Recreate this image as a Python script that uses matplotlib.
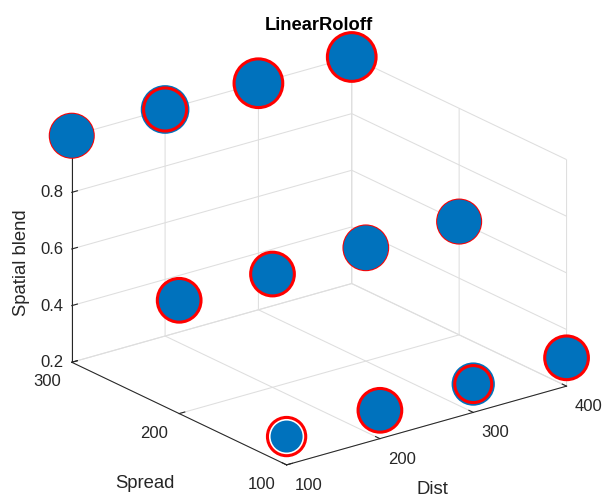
import numpy as np
import matplotlib
matplotlib.use("Agg")
import matplotlib.pyplot as plt

plt.rcParams["font.family"] = ["Liberation Sans", "DejaVu Sans"]
plt.rcParams["grid.color"] = "#dedede"
plt.rcParams["grid.linewidth"] = 0.75

# ---- data ----
title = "LinearRoloff"
dist = [100, 200, 300, 400, 100, 200, 300, 400, 100, 200, 300, 400]
spread = [100, 100, 100, 100, 200, 200, 200, 200, 300, 300, 300, 300]
blend = [0.3, 0.3, 0.3, 0.3, 0.6, 0.6, 0.6, 0.6, 1.0, 1.0, 1.0, 1.0]
# marker areas (pt^2) of the two measures at each setting
blue_area = [531, 959, 972, 959, 959, 959, 1036, 1004, 1004, 1229, 1194, 1194]
red_area = [760, 990, 710, 990, 990, 990, 990, 959, 959, 959, 1229, 1229]
blue_in_front = [False, False, False, False, False, False, True, True, True, False, False, False]

dist_ticks = [100, 200, 300, 400]
spread_ticks = [100, 200, 300]
blend_ticks = [0.2, 0.4, 0.6, 0.8, 1.0]
blend_ticklabels = ["0.2", "0.4", "0.6", "0.8", ""]

BLUE = "#0072BD"
RED = "#FF0000"
AXC = "#262626"

W_PX, H_PX = 607, 497
fig = plt.figure(figsize=(W_PX / 100, H_PX / 100), dpi=100)
ax = fig.add_subplot(projection="3d", proj_type="ortho", computed_zorder=False)
ax.view_init(elev=21.5, azim=-127.5)
ax.set_box_aspect((1, 1, 0.69))

ax.set_xlim(100, 400)
ax.set_ylim(100, 300)
ax.set_zlim(0.2, 1.0)
ax.set_xticks(dist_ticks)
ax.set_xticklabels([str(v) for v in dist_ticks])
ax.set_yticks(spread_ticks)
ax.set_yticklabels([str(v) for v in spread_ticks])
ax.set_zticks(blend_ticks)
ax.set_zticklabels(blend_ticklabels)

for axis in (ax.xaxis, ax.yaxis, ax.zaxis):
    axis.set_pane_color((1, 1, 1, 0))
    axis._axinfo["axisline"]["color"] = AXC
    axis._axinfo["axisline"]["linewidth"] = 0.75
    axis.line.set_color(AXC)
    axis.line.set_linewidth(0.75)
    axis._axinfo["grid"]["color"] = "#dedede"
    axis._axinfo["grid"]["linewidth"] = 0.75
    axis._axinfo["tick"]["inward_factor"] = 0.0
    axis._axinfo["tick"]["outward_factor"] = 0.25
ax.tick_params(colors=AXC, labelsize=12, width=0.75, pad=0)

for t in ax.xaxis.get_major_ticks():
    t.label1.set_horizontalalignment("left")
for t in ax.yaxis.get_major_ticks():
    t.label1.set_horizontalalignment("right")
for t in ax.zaxis.get_major_ticks():
    t.label1.set_verticalalignment("center_baseline")

# scatter layers
d = np.array(dist, float)
sp = np.array(spread, float)
bl = np.array(blend, float)
ba = np.array(blue_area, float)
ra = np.array(red_area, float)
front = np.array(blue_in_front)

ax.scatter(d[front], sp[front], bl[front], s=ra[front], facecolors="none",
           edgecolors=RED, linewidths=2.2, depthshade=False, zorder=2, clip_on=False)
ax.scatter(d, sp, bl, s=ba, c=BLUE, linewidths=0, depthshade=False, zorder=3, clip_on=False)
ax.scatter(d[~front], sp[~front], bl[~front], s=ra[~front], facecolors="none",
           edgecolors=RED, linewidths=2.2, depthshade=False, zorder=4, clip_on=False)

# place the plot box so its frame lands at the chosen pixel locations
frame_corners = np.array([[100, 300, 0.2], [100, 100, 0.2], [400, 100, 0.2],
                          [400, 300, 1.0], [100, 300, 1.0]])
frame_px = np.array([[72.3, 361.7], [286.6, 465.3], [565.8, 387.3],
                     [351.7, 56.0], [72.0, 135.7]])

fig.canvas.draw()
M = ax.get_proj()
hom = np.column_stack([frame_corners, np.ones(len(frame_corners))]) @ M.T
p2 = hom[:, :2] / hom[:, 3:4]
disp = ax.transData.transform(p2)
bb = ax.get_position()
s0 = bb.width * W_PX
c0 = np.array([(bb.x0 + bb.width / 2) * W_PX, (bb.y0 + bb.height / 2) * H_PX])
u = (disp - c0) / s0
tgt = np.column_stack([frame_px[:, 0], H_PX - frame_px[:, 1]])
n = len(u)
A = np.zeros((2 * n, 3))
b = np.zeros(2 * n)
A[0::2, 0] = u[:, 0]; A[0::2, 1] = 1; b[0::2] = tgt[:, 0]
A[1::2, 0] = u[:, 1]; A[1::2, 2] = 1; b[1::2] = tgt[:, 1]
s, cx, cy = np.linalg.lstsq(A, b, rcond=None)[0]
ax.set_position([(cx - s / 2) / W_PX, (cy - s / 2) / H_PX, s / W_PX, s / H_PX])

# labels and title
fig.text(319 / W_PX, 1 - 30 / H_PX, title, ha="center", va="baseline",
         fontsize=13.2, fontweight="bold", color="black")
fig.text(21.5 / W_PX, 1 - 263 / H_PX, "Spatial blend", rotation=90,
         ha="center", va="center", fontsize=13.3, color=AXC)
fig.text(145 / W_PX, 1 - 483 / H_PX, "Spread", ha="center", va="center",
         fontsize=13.3, color=AXC)
fig.text(432 / W_PX, 1 - 489 / H_PX, "Dist", ha="center", va="center",
         fontsize=13.3, color=AXC)

fig.savefig("out.png", dpi=100)
